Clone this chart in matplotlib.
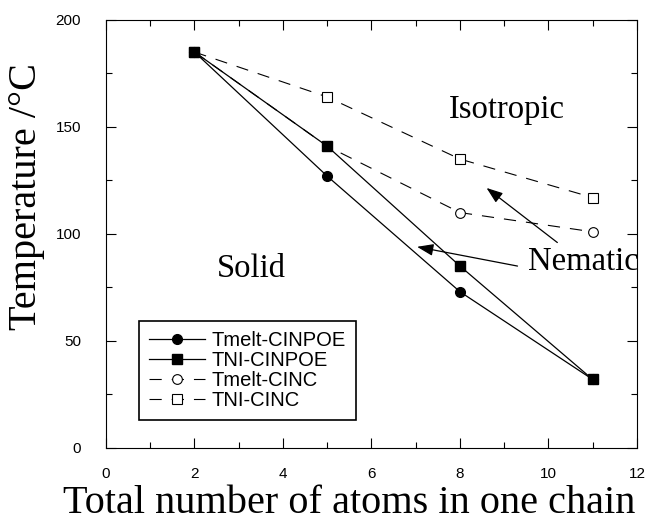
import matplotlib.pyplot as plt
from matplotlib.ticker import MultipleLocator

# chain length (atoms) and transition temperatures (deg C)
atoms = [2, 5, 8, 11]
tmelt_cinpoe = [185, 127, 73, 32]
tni_cinpoe = [185, 141, 85, 32]
tmelt_cinc = [185, 141, 110, 101]
tni_cinc = [185, 164, 135, 117]

SERIF = ["Liberation Serif", "DejaVu Serif"]
SANS = ["Liberation Sans", "DejaVu Sans"]

fig = plt.figure(figsize=(6.49, 5.25), dpi=100)
ax = fig.add_axes([0.1633, 0.1467, 0.8182, 0.8153])

dash = (11, 9)
# open-marker (dashed) series go underneath the filled ones
l3, = ax.plot(atoms, tmelt_cinc, color="black", lw=0.8, dashes=dash, marker="o",
              ms=7, mfc="white", mec="black", mew=0.8, label="Tmelt-CINC", zorder=2)
l4, = ax.plot(atoms, tni_cinc, color="black", lw=0.8, dashes=dash, marker="s",
              ms=7, mfc="white", mec="black", mew=0.8, label="TNI-CINC", zorder=2)
l1, = ax.plot(atoms, tmelt_cinpoe, "-", color="black", lw=0.9, marker="o", ms=7,
              label="Tmelt-CINPOE", zorder=3)
l2, = ax.plot(atoms, tni_cinpoe, "-", color="black", lw=0.9, marker="s", ms=7.8,
              label="TNI-CINPOE", zorder=3)

ax.set_xlim(0, 12)
ax.set_ylim(0, 200)
ax.xaxis.set_major_locator(MultipleLocator(2))
ax.xaxis.set_minor_locator(MultipleLocator(1))
ax.yaxis.set_major_locator(MultipleLocator(50))
ax.yaxis.set_minor_locator(MultipleLocator(25))
ax.tick_params(which="both", direction="in", top=True, right=True, width=0.8)
ax.tick_params(which="major", length=7)
ax.tick_params(which="minor", length=4)
ax.tick_params(axis="x", pad=14)
ax.tick_params(axis="y", pad=18)
for lbl in ax.get_xticklabels() + ax.get_yticklabels():
    lbl.set_family(SANS)
    lbl.set_fontsize(11)

fig.text(349 / 649, 1 - 513 / 525, "Total number of atoms in one chain",
         family=SERIF, fontsize=29, ha="center", va="baseline")
fig.text(27 / 649, 1 - 196 / 525, "Temperature /°C", family=SERIF, fontsize=29,
         rotation=90, ha="center", va="center")

ax.text(7.75, 154.2, "Isotropic", family=SERIF, fontsize=23.5, va="baseline")
ax.text(2.51, 79.9, "Solid", family=SERIF, fontsize=23.5, va="baseline")
ax.text(9.54, 83.2, "Nematic", family=SERIF, fontsize=23.5, va="baseline",
        clip_on=False)

arrow = dict(arrowstyle="-|>,head_length=0.55,head_width=0.2", color="black",
             lw=0.9, mutation_scale=18, shrinkA=0, shrinkB=0)
ax.annotate("", xy=(8.6, 121.5), xytext=(10.2, 96), arrowprops=arrow)
ax.annotate("", xy=(7.03, 94), xytext=(9.3, 85), arrowprops=arrow)

leg = ax.legend([l1, l2, l3, l4], [h.get_label() for h in (l1, l2, l3, l4)],
                loc="lower left", bbox_to_anchor=(0.062, 0.065), borderaxespad=0,
                prop={"family": SANS, "size": 14.5}, handlelength=2.8,
                labelspacing=0.05, handletextpad=0.3, borderpad=0.5,
                fancybox=False, edgecolor="black", framealpha=1)
leg.get_frame().set_linewidth(1.2)

fig.savefig("out.png", dpi=100)
